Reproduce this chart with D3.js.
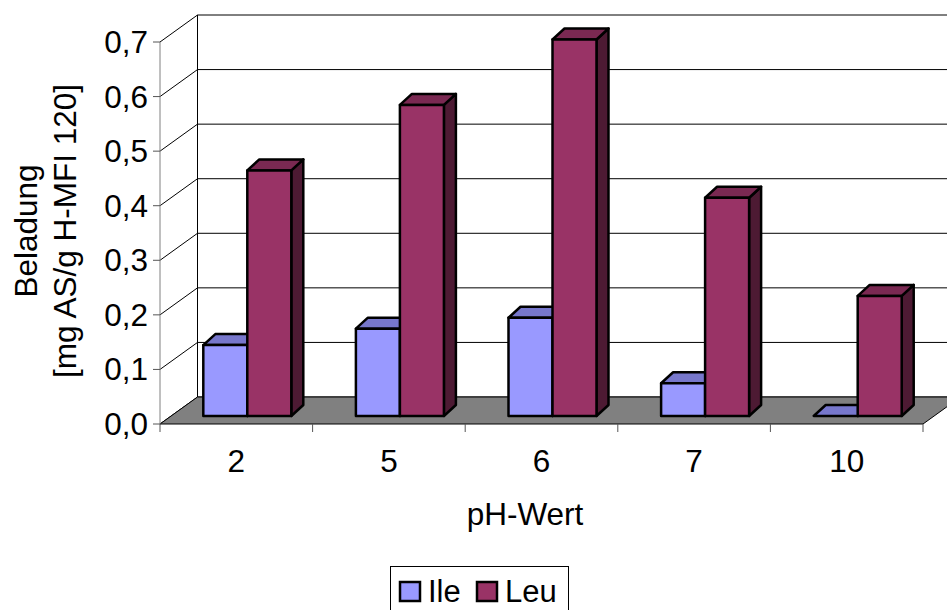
<!DOCTYPE html>
<html>
<head>
<meta charset="utf-8">
<script src="https://cdnjs.cloudflare.com/ajax/libs/d3/7.8.5/d3.min.js"></script>
<style>
  body { margin: 0; background: #fff; }
  text { font-family: "Liberation Sans", Arial, sans-serif; fill: #000; }
</style>
</head>
<body>
<div id="chart"></div>
<script>
// data
var categories = ["2", "5", "6", "7", "10"];
var series = ["Ile", "Leu"];
var ileValues = [0.13, 0.16, 0.18, 0.06, 0.0];
var leuValues = [0.45, 0.57, 0.69, 0.40, 0.22];
var yTicks = [0, 0.1, 0.2, 0.3, 0.4, 0.5, 0.6, 0.7];

var colors = {
  Ile: {front: "#9999FF", top: "#7777CC", side: "#5C5C99"},
  Leu: {front: "#993366", top: "#7A2952", side: "#4D1A33"}
};

var W = 947, H = 610;
var fontSize = "31.5px";
var svg = d3.select("#chart").append("svg")
  .attr("width", W).attr("height", H);

// front plane of the plot, and the depth offset to the back wall
var plotLeft = 160, plotRight = 923, plotBottom = 424, plotTop = 42;
var depth = {dx: 37.5, dy: -27};
var barFront = {dx: 11, dy: -8}, barDepth = {dx: 12, dy: -11};

var x = d3.scaleBand().domain(categories).range([plotLeft, plotRight]);
var inner = d3.scaleBand().domain(series).range([0, 88]);
var innerOff = (x.bandwidth() - 88) / 2;
var y = d3.scaleLinear().domain([0, 0.7]).range([plotBottom, plotTop]);

// back wall gridlines
svg.selectAll(".grid").data(yTicks).enter().append("line")
  .attr("x1", plotLeft + depth.dx).attr("x2", W + 20)
  .attr("y1", function(d) { return y(d) + depth.dy; })
  .attr("y2", function(d) { return y(d) + depth.dy; })
  .attr("stroke", "#000").attr("stroke-width", 1);

// side wall diagonals
svg.selectAll(".diag").data(yTicks).enter().append("line")
  .attr("x1", plotLeft).attr("x2", plotLeft + depth.dx)
  .attr("y1", function(d) { return y(d); })
  .attr("y2", function(d) { return y(d) + depth.dy; })
  .attr("stroke", "#000").attr("stroke-width", 1);

svg.append("line")
  .attr("x1", plotLeft + depth.dx).attr("x2", plotLeft + depth.dx)
  .attr("y1", y(0.7) + depth.dy).attr("y2", y(0) + depth.dy)
  .attr("stroke", "#000");

// floor
var floorPts = [[plotLeft, y(0)], [plotRight, y(0)],
  [plotRight + depth.dx, y(0) + depth.dy], [plotLeft + depth.dx, y(0) + depth.dy]];
svg.append("polygon")
  .attr("points", floorPts.map(function(p) { return p.join(","); }).join(" "))
  .attr("fill", "#808080").attr("stroke", "#000").attr("stroke-width", 1);

// y axis
svg.append("line")
  .attr("x1", plotLeft).attr("x2", plotLeft)
  .attr("y1", y(0.7)).attr("y2", y(0))
  .attr("stroke", "#808080").attr("stroke-width", 1);
svg.selectAll(".ytick").data(yTicks).enter().append("line")
  .attr("x1", plotLeft - 7).attr("x2", plotLeft)
  .attr("y1", function(d) { return y(d); })
  .attr("y2", function(d) { return y(d); })
  .attr("stroke", "#555");
svg.selectAll(".ylab").data(yTicks).enter().append("text")
  .attr("x", plotLeft - 12)
  .attr("y", function(d) { return y(d) + 11; })
  .attr("text-anchor", "end")
  .style("font-size", fontSize)
  .text(function(d) { return d3.format(".1f")(d).replace(".", ","); });

// x axis ticks at category boundaries
var xBounds = categories.map(function(c) { return x(c); }).concat([plotRight]);
svg.selectAll(".xtick").data(xBounds).enter().append("line")
  .attr("x1", function(d) { return d; }).attr("x2", function(d) { return d; })
  .attr("y1", plotBottom).attr("y2", plotBottom + 8)
  .attr("stroke", "#555");
svg.selectAll(".xlab").data(categories).enter().append("text")
  .attr("x", function(d) { return x(d) + x.bandwidth() / 2; })
  .attr("y", 472)
  .attr("text-anchor", "middle")
  .style("font-size", fontSize)
  .text(function(d) { return d; });

// bars
var bars = [];
categories.forEach(function(c, i) {
  bars.push({cat: c, s: "Ile", v: ileValues[i]});
  bars.push({cat: c, s: "Leu", v: leuValues[i]});
});

function pts(a) { return a.map(function(p) { return p.join(","); }).join(" "); }

var g = svg.selectAll(".bar").data(bars).enter().append("g");
g.each(function(d) {
  var x0 = x(d.cat) + innerOff + inner(d.s) + barFront.dx;
  var x1 = x0 + inner.bandwidth();
  var yb = y(0) + barFront.dy, yt = y(d.v) + barFront.dy;
  var ddx = barDepth.dx, ddy = barDepth.dy;
  var sel = d3.select(this);
  var c = colors[d.s];
  sel.append("polygon")
    .attr("points", pts([[x1, yt], [x1 + ddx, yt + ddy], [x1 + ddx, yb + ddy], [x1, yb]]))
    .attr("fill", c.side);
  sel.append("polygon")
    .attr("points", pts([[x0, yt], [x1, yt], [x1 + ddx, yt + ddy], [x0 + ddx, yt + ddy]]))
    .attr("fill", c.top);
  if (yb - yt > 0.5) {
    sel.append("rect")
      .attr("x", x0).attr("y", yt)
      .attr("width", x1 - x0).attr("height", yb - yt)
      .attr("fill", c.front);
  }
  sel.selectAll("polygon, rect")
    .attr("stroke", "#000").attr("stroke-width", 2.5)
    .attr("stroke-linejoin", "round");
});

// axis titles
svg.append("text")
  .attr("transform", "translate(37,231) rotate(-90)")
  .attr("text-anchor", "middle")
  .style("font-size", fontSize)
  .text("Beladung");
svg.append("text")
  .attr("transform", "translate(76,231) rotate(-90)")
  .attr("text-anchor", "middle")
  .style("font-size", fontSize)
  .text("[mg AS/g H-MFI 120]");
svg.append("text")
  .attr("x", 525).attr("y", 525)
  .attr("text-anchor", "middle")
  .style("font-size", fontSize)
  .text("pH-Wert");

// legend
var legend = svg.append("g");
legend.append("rect")
  .attr("x", 390.5).attr("y", 566.5)
  .attr("width", 178).attr("height", 60)
  .attr("fill", "#fff").attr("stroke", "#000").attr("stroke-width", 1);
var legX = [400, 477];
series.forEach(function(s, i) {
  legend.append("rect")
    .attr("x", legX[i]).attr("y", 582)
    .attr("width", 20).attr("height", 19)
    .attr("fill", colors[s].front)
    .attr("stroke", "#000").attr("stroke-width", 2.5);
  legend.append("text")
    .attr("x", legX[i] + 28).attr("y", 602)
    .style("font-size", "31px")
    .text(s);
});
</script>
</body>
</html>
